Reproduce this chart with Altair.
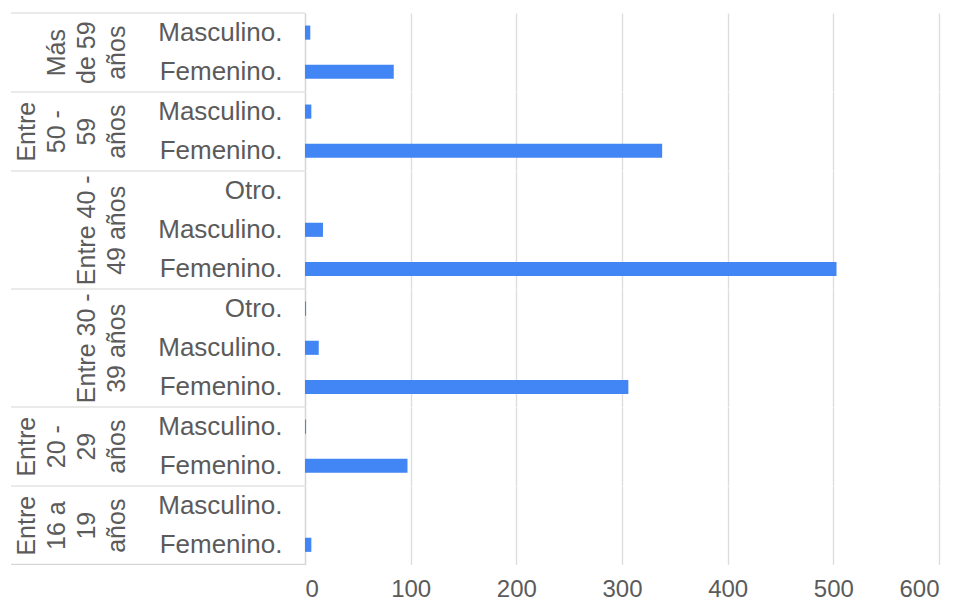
import altair as alt
import pandas as pd

# ---- data ----
groups = ["Más de 59 años", "Entre 50 - 59 años", "Entre 40 - 49 años",
          "Entre 30 - 39 años", "Entre 20 - 29 años", "Entre 16 a 19 años"]
group_lines = [["Más", "de 59", "años"],
               ["Entre", "50 -", "59", "años"],
               ["Entre 40 -", "49 años"],
               ["Entre 30 -", "39 años"],
               ["Entre", "20 -", "29", "años"],
               ["Entre", "16 a", "19", "años"]]
genders = [["Masculino.", "Femenino."],
           ["Masculino.", "Femenino."],
           ["Otro.", "Masculino.", "Femenino."],
           ["Otro.", "Masculino.", "Femenino."],
           ["Masculino.", "Femenino."],
           ["Masculino.", "Femenino."]]
values = [[5, 84],
          [6, 338],
          [0, 17, 503],
          [1, 13, 306],
          [1, 97],
          [0, 6]]
x_ticks = [0, 100, 200, 300, 400, 500, 600]

# ---- style ----
BAR = "#4285f4"
TXT = "#5b5b5b"
GRID = "#dddddd"
SEP = "#d6d6d6"
FONT = "Liberation Sans"
W = 634
ROW = 39.2
LEFT_EXT = 294

sep_df = pd.DataFrame({"s": [0]})


def panel(i):
    df = pd.DataFrame({"genero": genders[i], "valor": values[i]})
    h = ROW * len(genders[i])
    last = i == len(groups) - 1
    xaxis = alt.Axis(values=x_ticks, grid=True, gridColor=GRID, gridWidth=1.4,
                     labels=last, ticks=False, tickSize=0, domain=False,
                     title=None, labelPadding=13, labelFontSize=24,
                     labelColor=TXT, labelFont=FONT)
    yaxis = alt.Axis(title=group_lines[i], titleFontSize=25, titleFont=FONT,
                     titleFontWeight="normal", titleColor=TXT,
                     titleLineHeight=30, titlePadding=28,
                     labelFontSize=26, labelFont=FONT, labelColor=TXT,
                     labelPadding=23, ticks=False, tickSize=0,
                     domain=True, domainColor=SEP, domainWidth=1.2)
    bars = alt.Chart(df).mark_bar(color=BAR).encode(
        x=alt.X("valor:Q", scale=alt.Scale(domain=[0, 600], nice=False), axis=xaxis),
        y=alt.Y("genero:N", sort=genders[i],
                scale=alt.Scale(paddingInner=0.64, paddingOuter=0.32),
                axis=yaxis),
    )
    top = alt.Chart(sep_df).mark_rule(color=SEP, strokeWidth=1.2).encode(
        x=alt.value(-LEFT_EXT), x2=alt.value(0), y=alt.value(0))
    layers = [bars, top]
    if last:
        bottom = alt.Chart(sep_df).mark_rule(color=SEP, strokeWidth=1.2).encode(
            x=alt.value(-LEFT_EXT), x2=alt.value(0), y=alt.value(h))
        layers.append(bottom)
    return alt.layer(*layers).properties(width=W, height=h)


chart = alt.vconcat(*[panel(i) for i in range(len(groups))], spacing=0,
                    bounds="flush").properties(
    padding={"left": 10, "top": 12, "right": 5, "bottom": 2},
    background="white",
).configure_view(stroke=None)

chart.save("out.html", embed_options={"renderer": "svg", "actions": False})
